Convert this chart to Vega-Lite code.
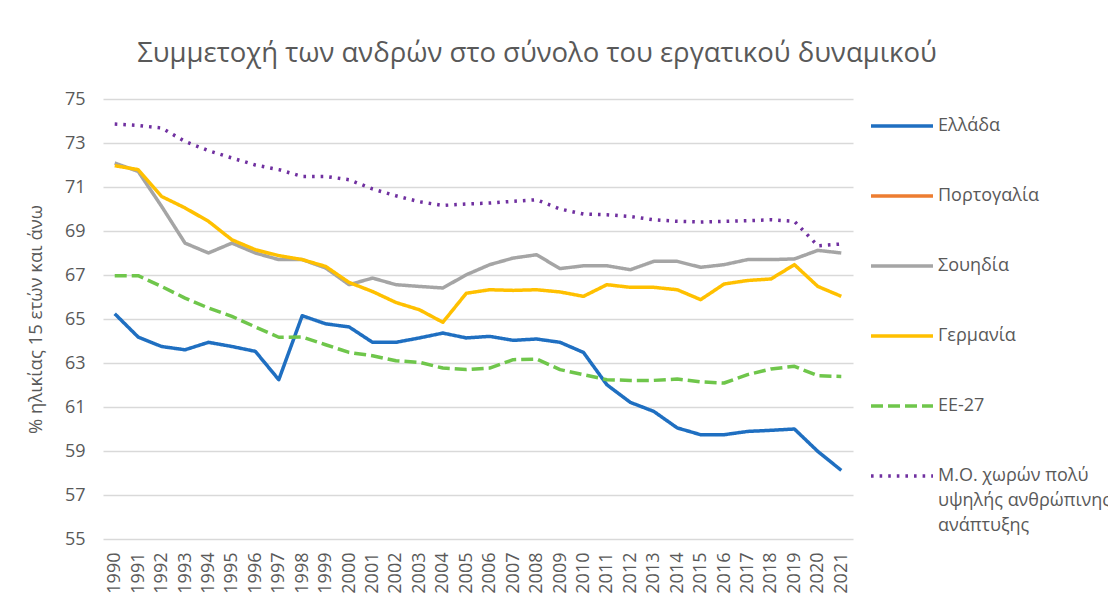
{
  "$schema": "https://vega.github.io/schema/vega-lite/v6.json",
  "autosize": {"type": "none"},
  "width": 750,
  "height": 440,
  "padding": {"left": 103, "top": 99, "right": 255, "bottom": 69},
  "background": "white",
  "config": {
    "font": "Open Sans",
    "view": {"stroke": null},
    "style": {"guide-label": {"lineHeight": 25}}
  },
  "title": {
    "text": "Συμμετοχή των ανδρών στο σύνολο του εργατικού δυναμικού",
    "fontSize": 27.5,
    "fontWeight": "normal",
    "color": "#595959",
    "anchor": "middle",
    "frame": "group",
    "dx": 59,
    "offset": 23
  },
  "data": {"values": [
    {"year":"1990","series":"Ελλάδα","value":65.24},
    {"year":"1991","series":"Ελλάδα","value":64.18},
    {"year":"1992","series":"Ελλάδα","value":63.75},
    {"year":"1993","series":"Ελλάδα","value":63.6},
    {"year":"1994","series":"Ελλάδα","value":63.94},
    {"year":"1995","series":"Ελλάδα","value":63.75},
    {"year":"1996","series":"Ελλάδα","value":63.53},
    {"year":"1997","series":"Ελλάδα","value":62.24},
    {"year":"1998","series":"Ελλάδα","value":65.15},
    {"year":"1999","series":"Ελλάδα","value":64.78},
    {"year":"2000","series":"Ελλάδα","value":64.64},
    {"year":"2001","series":"Ελλάδα","value":63.94},
    {"year":"2002","series":"Ελλάδα","value":63.94},
    {"year":"2003","series":"Ελλάδα","value":64.14},
    {"year":"2004","series":"Ελλάδα","value":64.36},
    {"year":"2005","series":"Ελλάδα","value":64.14},
    {"year":"2006","series":"Ελλάδα","value":64.21},
    {"year":"2007","series":"Ελλάδα","value":64.03},
    {"year":"2008","series":"Ελλάδα","value":64.09},
    {"year":"2009","series":"Ελλάδα","value":63.94},
    {"year":"2010","series":"Ελλάδα","value":63.48},
    {"year":"2011","series":"Ελλάδα","value":62.01},
    {"year":"2012","series":"Ελλάδα","value":61.21},
    {"year":"2013","series":"Ελλάδα","value":60.8},
    {"year":"2014","series":"Ελλάδα","value":60.05},
    {"year":"2015","series":"Ελλάδα","value":59.74},
    {"year":"2016","series":"Ελλάδα","value":59.74},
    {"year":"2017","series":"Ελλάδα","value":59.89},
    {"year":"2018","series":"Ελλάδα","value":59.94},
    {"year":"2019","series":"Ελλάδα","value":60.0},
    {"year":"2020","series":"Ελλάδα","value":58.98},
    {"year":"2021","series":"Ελλάδα","value":58.12},

    {"year":"1990","series":"Σουηδία","value":72.09},
    {"year":"1991","series":"Σουηδία","value":71.71},
    {"year":"1992","series":"Σουηδία","value":70.12},
    {"year":"1993","series":"Σουηδία","value":68.45},
    {"year":"1994","series":"Σουηδία","value":68.0},
    {"year":"1995","series":"Σουηδία","value":68.45},
    {"year":"1996","series":"Σουηδία","value":68.0},
    {"year":"1997","series":"Σουηδία","value":67.7},
    {"year":"1998","series":"Σουηδία","value":67.7},
    {"year":"1999","series":"Σουηδία","value":67.32},
    {"year":"2000","series":"Σουηδία","value":66.56},
    {"year":"2001","series":"Σουηδία","value":66.86},
    {"year":"2002","series":"Σουηδία","value":66.56},
    {"year":"2003","series":"Σουηδία","value":66.48},
    {"year":"2004","series":"Σουηδία","value":66.41},
    {"year":"2005","series":"Σουηδία","value":67.01},
    {"year":"2006","series":"Σουηδία","value":67.47},
    {"year":"2007","series":"Σουηδία","value":67.77},
    {"year":"2008","series":"Σουηδία","value":67.92},
    {"year":"2009","series":"Σουηδία","value":67.29},
    {"year":"2010","series":"Σουηδία","value":67.42},
    {"year":"2011","series":"Σουηδία","value":67.42},
    {"year":"2012","series":"Σουηδία","value":67.24},
    {"year":"2013","series":"Σουηδία","value":67.62},
    {"year":"2014","series":"Σουηδία","value":67.62},
    {"year":"2015","series":"Σουηδία","value":67.35},
    {"year":"2016","series":"Σουηδία","value":67.47},
    {"year":"2017","series":"Σουηδία","value":67.7},
    {"year":"2018","series":"Σουηδία","value":67.7},
    {"year":"2019","series":"Σουηδία","value":67.73},
    {"year":"2020","series":"Σουηδία","value":68.12},
    {"year":"2021","series":"Σουηδία","value":68.0},

    {"year":"1990","series":"Γερμανία","value":71.97},
    {"year":"1991","series":"Γερμανία","value":71.79},
    {"year":"1992","series":"Γερμανία","value":70.57},
    {"year":"1993","series":"Γερμανία","value":70.05},
    {"year":"1994","series":"Γερμανία","value":69.44},
    {"year":"1995","series":"Γερμανία","value":68.6},
    {"year":"1996","series":"Γερμανία","value":68.15},
    {"year":"1997","series":"Γερμανία","value":67.88},
    {"year":"1998","series":"Γερμανία","value":67.7},
    {"year":"1999","series":"Γερμανία","value":67.39},
    {"year":"2000","series":"Γερμανία","value":66.66},
    {"year":"2001","series":"Γερμανία","value":66.25},
    {"year":"2002","series":"Γερμανία","value":65.75},
    {"year":"2003","series":"Γερμανία","value":65.42},
    {"year":"2004","series":"Γερμανία","value":64.85},
    {"year":"2005","series":"Γερμανία","value":66.17},
    {"year":"2006","series":"Γερμανία","value":66.33},
    {"year":"2007","series":"Γερμανία","value":66.3},
    {"year":"2008","series":"Γερμανία","value":66.33},
    {"year":"2009","series":"Γερμανία","value":66.23},
    {"year":"2010","series":"Γερμανία","value":66.03},
    {"year":"2011","series":"Γερμανία","value":66.56},
    {"year":"2012","series":"Γερμανία","value":66.44},
    {"year":"2013","series":"Γερμανία","value":66.44},
    {"year":"2014","series":"Γερμανία","value":66.33},
    {"year":"2015","series":"Γερμανία","value":65.88},
    {"year":"2016","series":"Γερμανία","value":66.59},
    {"year":"2017","series":"Γερμανία","value":66.75},
    {"year":"2018","series":"Γερμανία","value":66.82},
    {"year":"2019","series":"Γερμανία","value":67.47},
    {"year":"2020","series":"Γερμανία","value":66.48},
    {"year":"2021","series":"Γερμανία","value":66.03},

    {"year":"1990","series":"ΕΕ-27","value":66.97},
    {"year":"1991","series":"ΕΕ-27","value":66.97},
    {"year":"1992","series":"ΕΕ-27","value":66.48},
    {"year":"1993","series":"ΕΕ-27","value":65.95},
    {"year":"1994","series":"ΕΕ-27","value":65.5},
    {"year":"1995","series":"ΕΕ-27","value":65.12},
    {"year":"1996","series":"ΕΕ-27","value":64.64},
    {"year":"1997","series":"ΕΕ-27","value":64.17},
    {"year":"1998","series":"ΕΕ-27","value":64.18},
    {"year":"1999","series":"ΕΕ-27","value":63.83},
    {"year":"2000","series":"ΕΕ-27","value":63.48},
    {"year":"2001","series":"ΕΕ-27","value":63.33},
    {"year":"2002","series":"ΕΕ-27","value":63.1},
    {"year":"2003","series":"ΕΕ-27","value":63.03},
    {"year":"2004","series":"ΕΕ-27","value":62.77},
    {"year":"2005","series":"ΕΕ-27","value":62.7},
    {"year":"2006","series":"ΕΕ-27","value":62.77},
    {"year":"2007","series":"ΕΕ-27","value":63.15},
    {"year":"2008","series":"ΕΕ-27","value":63.18},
    {"year":"2009","series":"ΕΕ-27","value":62.7},
    {"year":"2010","series":"ΕΕ-27","value":62.47},
    {"year":"2011","series":"ΕΕ-27","value":62.24},
    {"year":"2012","series":"ΕΕ-27","value":62.21},
    {"year":"2013","series":"ΕΕ-27","value":62.21},
    {"year":"2014","series":"ΕΕ-27","value":62.27},
    {"year":"2015","series":"ΕΕ-27","value":62.14},
    {"year":"2016","series":"ΕΕ-27","value":62.09},
    {"year":"2017","series":"ΕΕ-27","value":62.47},
    {"year":"2018","series":"ΕΕ-27","value":62.73},
    {"year":"2019","series":"ΕΕ-27","value":62.85},
    {"year":"2020","series":"ΕΕ-27","value":62.42},
    {"year":"2021","series":"ΕΕ-27","value":62.39},

    {"year":"1990","series":"Μ.Ο. χωρών πολύ υψηλής ανθρώπινης ανάπτυξης","value":73.86},
    {"year":"1991","series":"Μ.Ο. χωρών πολύ υψηλής ανθρώπινης ανάπτυξης","value":73.8},
    {"year":"1992","series":"Μ.Ο. χωρών πολύ υψηλής ανθρώπινης ανάπτυξης","value":73.68},
    {"year":"1993","series":"Μ.Ο. χωρών πολύ υψηλής ανθρώπινης ανάπτυξης","value":73.07},
    {"year":"1994","series":"Μ.Ο. χωρών πολύ υψηλής ανθρώπινης ανάπτυξης","value":72.65},
    {"year":"1995","series":"Μ.Ο. χωρών πολύ υψηλής ανθρώπινης ανάπτυξης","value":72.32},
    {"year":"1996","series":"Μ.Ο. χωρών πολύ υψηλής ανθρώπινης ανάπτυξης","value":72.0},
    {"year":"1997","series":"Μ.Ο. χωρών πολύ υψηλής ανθρώπινης ανάπτυξης","value":71.79},
    {"year":"1998","series":"Μ.Ο. χωρών πολύ υψηλής ανθρώπινης ανάπτυξης","value":71.48},
    {"year":"1999","series":"Μ.Ο. χωρών πολύ υψηλής ανθρώπινης ανάπτυξης","value":71.48},
    {"year":"2000","series":"Μ.Ο. χωρών πολύ υψηλής ανθρώπινης ανάπτυξης","value":71.33},
    {"year":"2001","series":"Μ.Ο. χωρών πολύ υψηλής ανθρώπινης ανάπτυξης","value":70.91},
    {"year":"2002","series":"Μ.Ο. χωρών πολύ υψηλής ανθρώπινης ανάπτυξης","value":70.6},
    {"year":"2003","series":"Μ.Ο. χωρών πολύ υψηλής ανθρώπινης ανάπτυξης","value":70.33},
    {"year":"2004","series":"Μ.Ο. χωρών πολύ υψηλής ανθρώπινης ανάπτυξης","value":70.16},
    {"year":"2005","series":"Μ.Ο. χωρών πολύ υψηλής ανθρώπινης ανάπτυξης","value":70.23},
    {"year":"2006","series":"Μ.Ο. χωρών πολύ υψηλής ανθρώπινης ανάπτυξης","value":70.27},
    {"year":"2007","series":"Μ.Ο. χωρών πολύ υψηλής ανθρώπινης ανάπτυξης","value":70.35},
    {"year":"2008","series":"Μ.Ο. χωρών πολύ υψηλής ανθρώπινης ανάπτυξης","value":70.42},
    {"year":"2009","series":"Μ.Ο. χωρών πολύ υψηλής ανθρώπινης ανάπτυξης","value":70.0},
    {"year":"2010","series":"Μ.Ο. χωρών πολύ υψηλής ανθρώπινης ανάπτυξης","value":69.77},
    {"year":"2011","series":"Μ.Ο. χωρών πολύ υψηλής ανθρώπινης ανάπτυξης","value":69.74},
    {"year":"2012","series":"Μ.Ο. χωρών πολύ υψηλής ανθρώπινης ανάπτυξης","value":69.66},
    {"year":"2013","series":"Μ.Ο. χωρών πολύ υψηλής ανθρώπινης ανάπτυξης","value":69.51},
    {"year":"2014","series":"Μ.Ο. χωρών πολύ υψηλής ανθρώπινης ανάπτυξης","value":69.44},
    {"year":"2015","series":"Μ.Ο. χωρών πολύ υψηλής ανθρώπινης ανάπτυξης","value":69.41},
    {"year":"2016","series":"Μ.Ο. χωρών πολύ υψηλής ανθρώπινης ανάπτυξης","value":69.44},
    {"year":"2017","series":"Μ.Ο. χωρών πολύ υψηλής ανθρώπινης ανάπτυξης","value":69.47},
    {"year":"2018","series":"Μ.Ο. χωρών πολύ υψηλής ανθρώπινης ανάπτυξης","value":69.51},
    {"year":"2019","series":"Μ.Ο. χωρών πολύ υψηλής ανθρώπινης ανάπτυξης","value":69.44},
    {"year":"2020","series":"Μ.Ο. χωρών πολύ υψηλής ανθρώπινης ανάπτυξης","value":68.33},
    {"year":"2021","series":"Μ.Ο. χωρών πολύ υψηλής ανθρώπινης ανάπτυξης","value":68.41}
  ]},
  "mark": {"type": "line", "strokeWidth": 3.5, "strokeJoin": "round", "strokeCap": "butt"},
  "encoding": {
    "x": {
      "field": "year", "type": "ordinal", "title": null,
      "scale": {"type": "point", "padding": 0.5},
      "axis": {"labelAngle": -90, "labelFontSize": 18, "labelColor": "#595959", "ticks": false, "domain": false, "grid": false, "labelPadding": 13, "labelAlign": "right", "labelBaseline": "middle"}
    },
    "y": {
      "field": "value", "type": "quantitative",
      "title": "% ηλικίας 15 ετών και άνω",
      "scale": {"domain": [55, 75], "nice": false, "zero": false},
      "axis": {"values": [55,57,59,61,63,65,67,69,71,73,75], "labelFontSize": 18, "labelColor": "#595959", "ticks": false, "domain": false, "gridColor": "#d9d9d9", "gridWidth": 1.5, "labelPadding": 18, "titleFontSize": 18.5, "titleFontWeight": "normal", "titleColor": "#595959", "titlePadding": 19}
    },
    "color": {
      "field": "series", "type": "nominal",
      "scale": {
        "domain": ["Ελλάδα", "Πορτογαλία", "Σουηδία", "Γερμανία", "ΕΕ-27", "Μ.Ο. χωρών πολύ υψηλής ανθρώπινης ανάπτυξης"],
        "range": ["#1f6fc1", "#ed7d31", "#a5a5a5", "#ffc000", "#6fc64b", "#7030a0"]
      },
      "legend": {
        "title": null, "orient": "none", "legendX": 766, "legendY": -6,
        "symbolType": "stroke", "symbolSize": 3844, "symbolStrokeWidth": 3.5,
        "labelFontSize": 18, "labelColor": "#595959", "labelOffset": 3, "labelLimit": 250,
        "rowPadding": 28,
        "labelExpr": "datum.label == 'Μ.Ο. χωρών πολύ υψηλής ανθρώπινης ανάπτυξης' ? ['Μ.Ο. χωρών πολύ', 'υψηλής ανθρώπινης', 'ανάπτυξης'] : datum.label"
      }
    },
    "strokeDash": {
      "field": "series", "type": "nominal",
      "scale": {
        "domain": ["Ελλάδα", "Πορτογαλία", "Σουηδία", "Γερμανία", "ΕΕ-27", "Μ.Ο. χωρών πολύ υψηλής ανθρώπινης ανάπτυξης"],
        "range": [[1, 0], [1, 0], [1, 0], [1, 0], [12, 5], [2.6, 6]]
      },
      "legend": null
    }
  }
}
